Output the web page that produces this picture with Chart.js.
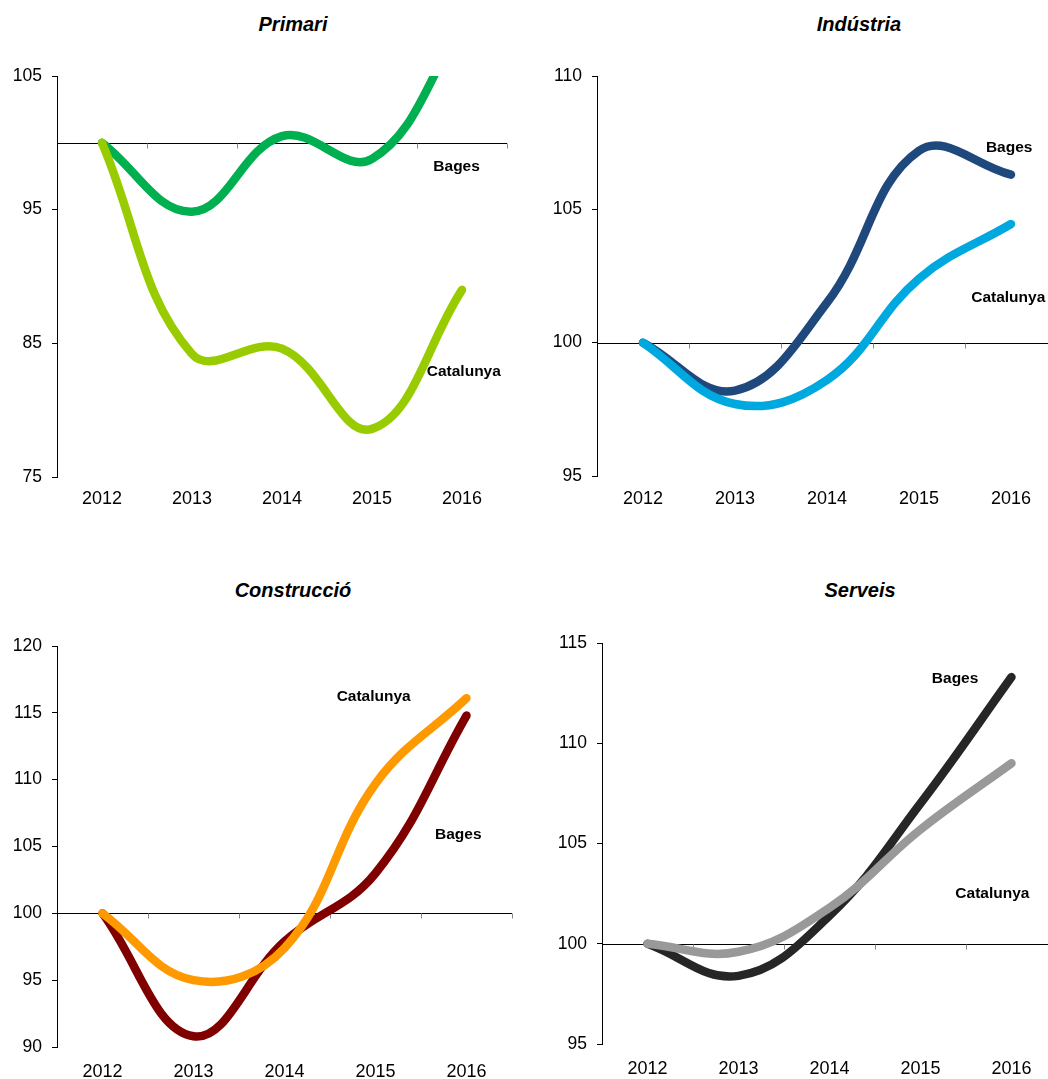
<!DOCTYPE html>
<html>
<head>
<meta charset="utf-8">
<script src="https://cdn.jsdelivr.net/npm/chart.js"></script>
<style>
  html, body { margin: 0; padding: 0; background: #fff; width: 1048px; height: 1079px; overflow: hidden; }
  .panel { position: absolute; }
  .title { position: absolute; font: italic bold 20px "Liberation Sans", Arial, sans-serif; line-height: 24px;
           transform: translateX(-50%); white-space: nowrap; color: #000; }
</style>
</head>
<body>

<div class="title" style="left:293px; top:12px">Primari</div>
<div class="title" style="left:859px; top:12px">Indústria</div>
<div class="title" style="left:293px; top:578px">Construcció</div>
<div class="title" style="left:860px; top:578px">Serveis</div>

<canvas class="panel" id="primari" width="524" height="470" style="left:0; top:50px"></canvas>
<canvas class="panel" id="industria" width="520" height="470" style="left:540px; top:50px"></canvas>
<canvas class="panel" id="construccio" width="524" height="459" style="left:0; top:620px"></canvas>
<canvas class="panel" id="serveis" width="520" height="459" style="left:540px; top:620px"></canvas>

<script>
// years on the x axis
var years = ['2012', '2013', '2014', '2015', '2016'];

// index 2012 = 100
var primariBages = [100, 94.85, 100.5, 98.8, 108.7];
var primariCatalunya = [100, 84.2, 84.6, 78.6, 89.0];

var industriaBages = [100, 98.2, 101.5, 107.2, 106.3];
var industriaCatalunya = [100, 97.7, 98.6, 102.4, 104.45];

var construccioBages = [100, 90.8, 97.9, 103.0, 114.8];
var construccioCatalunya = [100, 95.0, 97.4, 109.7, 116.1];

var serveisBages = [100, 98.4, 101.4, 107.0, 113.3];
var serveisCatalunya = [100, 99.6, 101.8, 105.7, 109.0];

// series name labels, placed at [category index, value]
var primariLabels = [['Bages', 3.94, 98.2], ['Catalunya', 4.02, 82.9]];
var industriaLabels = [['Bages', 3.98, 107.3], ['Catalunya', 3.97, 101.7]];
var construccioLabels = [['Catalunya', 2.98, 116.2], ['Bages', 3.91, 105.9]];
var serveisLabels = [['Bages', 3.38, 113.2], ['Catalunya', 3.79, 102.5]];

var FONT = '"Liberation Sans", Arial, sans-serif';

// line at 100 with small marks between the years, plus the series names
var baseLine = {
    id: 'baseLine',
    beforeDatasetsDraw: function (chart, args, opts) {
        var ctx = chart.ctx, area = chart.chartArea;
        var x = chart.scales.x, y = chart.scales.y;
        var py = Math.round(y.getPixelForValue(100)) + 0.5;
        ctx.save();
        ctx.strokeStyle = '#000';
        ctx.lineWidth = 1;
        ctx.beginPath();
        ctx.moveTo(area.left, py);
        ctx.lineTo(area.right, py);
        ctx.stroke();
        ctx.strokeStyle = '#888';
        ctx.beginPath();
        for (var i = 0; i < chart.data.labels.length; i++) {
            var px = Math.round(x.getPixelForValue(i + 0.5)) + 0.5;
            ctx.moveTo(px, py);
            ctx.lineTo(px, py + 5);
        }
        ctx.stroke();
        ctx.restore();
    },
    afterDatasetsDraw: function (chart, args, opts) {
        var ctx = chart.ctx;
        var x = chart.scales.x, y = chart.scales.y;
        ctx.save();
        ctx.font = 'bold 15.5px ' + FONT;
        ctx.fillStyle = '#000';
        ctx.textAlign = 'center';
        ctx.textBaseline = 'middle';
        (opts.labels || []).forEach(function (l) {
            ctx.fillText(l[0], x.getPixelForValue(l[1]), y.getPixelForValue(l[2]));
        });
        ctx.restore();
    }
};

function makePanel(id, bages, catalunya, colors, yMin, yMax, step, labels, box) {
    return new Chart(document.getElementById(id), {
        type: 'line',
        data: {
            labels: years,
            datasets: [
                { label: 'Catalunya', data: catalunya, borderColor: colors[1] },
                { label: 'Bages', data: bages, borderColor: colors[0] }
            ]
        },
        options: {
            responsive: false,
            animation: false,
            events: [],
            layout: { padding: { left: 0, top: box.top, right: box.right, bottom: 0 } },
            elements: {
                line: { borderWidth: 8.5, tension: 0.4, capBezierPoints: false,
                        borderCapStyle: 'round', borderJoinStyle: 'round', fill: false },
                point: { radius: 0 }
            },
            clip: 0,
            scales: {
                x: {
                    type: 'category',
                    offset: true,
                    border: { display: false },
                    grid: { display: false, drawTicks: false },
                    ticks: { color: '#000', font: { family: FONT, size: 18 }, padding: box.xPad, maxRotation: 0 },
                    afterFit: function (s) { s.height = box.xh; }
                },
                y: {
                    min: yMin,
                    max: yMax,
                    border: { display: true, color: '#000', width: 1 },
                    grid: { drawOnChartArea: false, drawTicks: true, tickLength: 5, color: '#000' },
                    ticks: { stepSize: step, color: '#000', font: { family: FONT, size: 17.5 }, padding: 10 },
                    afterFit: function (s) { s.width = box.yw; }
                }
            },
            plugins: {
                legend: { display: false },
                tooltip: { enabled: false },
                baseLine: { labels: labels }
            }
        },
        plugins: [baseLine]
    });
}

makePanel('primari', primariBages, primariCatalunya, ['#00b050', '#99cc00'], 75, 105, 10, primariLabels,
    { top: 26, right: 17, xh: 43, yw: 57, xPad: 11 });
makePanel('industria', industriaBages, industriaCatalunya, ['#1f497d', '#00a8e0'], 95, 110, 5, industriaLabels,
    { top: 26, right: 3, xh: 44, yw: 57, xPad: 12 });
makePanel('construccio', construccioBages, construccioCatalunya, ['#800000', '#ff9900'], 90, 120, 5, construccioLabels,
    { top: 26, right: 12, xh: 32, yw: 57, xPad: 14 });
makePanel('serveis', serveisBages, serveisCatalunya, ['#262626', '#999999'], 95, 115, 5, serveisLabels,
    { top: 23, right: 3, xh: 35, yw: 62, xPad: 14 });
</script>
</body>
</html>
